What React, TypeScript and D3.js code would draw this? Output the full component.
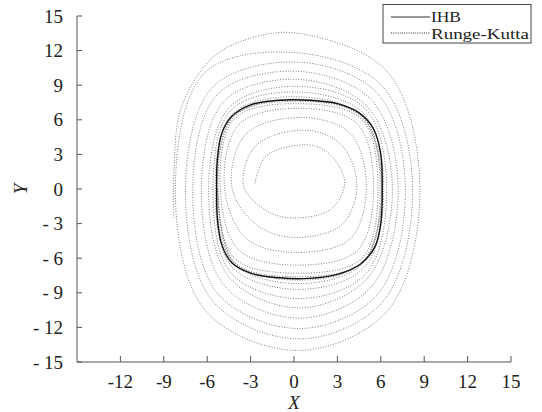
import React from "react";
import * as d3 from "d3";

// axis ticks
const xTicks = [-12, -9, -6, -3, 0, 3, 6, 9, 12, 15];
const yTicks = [15, 12, 9, 6, 3, 0, -3, -6, -9, -12, -15];
const yTickLabels = ["15", "12", "9", "6", "3", "0", "- 3", "- 6", "- 9", "- 12", "- 15"];

// IHB limit cycle (closed)
const ihbX = [6.1, 6.0, 5.5, 4.5, 3, 1, -1, -3, -4.3, -5.0, -5.3, -5.35, -5.3, -5.0, -4.3, -3, -1, 1, 3, 4.6, 5.6, 6.0];
const ihbY = [0, 3, 5.2, 6.6, 7.4, 7.7, 7.7, 7.3, 6.3, 4.8, 2.5, 0, -2.5, -4.8, -6.4, -7.3, -7.7, -7.75, -7.4, -6.5, -5.0, -3];

// Runge-Kutta: trajectory from outside, read loop by loop (L, TL, top, TR, R, BR, B, BL)
const rkOuterX = [
  -8.3, -8.3, -7.8, -5.7, -3.2,
  0.3, 6.5, 8.7, 6.5, 0.3, -6.15, -8.2, -6.15,
  0.3, 6.15, 8.2, 6.15, 0.4, -5.6, -7.5, -5.6,
  0.3, 5.8, 7.7, 5.8, 0.4, -5.25, -7.0, -5.25,
  0.3, 5.4, 7.2, 5.4, 0.4, -4.8, -6.4, -4.8,
  0.3, 5.1, 6.8, 5.1, 0.4, -4.45, -5.9, -4.45,
  0.3, 5.0, 6.4, 5.0, 0.4, -4.35, -5.6, -4.35,
  0.3, 4.85, 6.2, 4.85, 0.4, -4.25, -5.45, -4.25,
  0.3, 4.75, 6.1, 4.75, 0.4, -4.15, -5.35, -4.15,
  0.3, 4.7, 6.05, 4.7, 0.4, -4.15, -5.3,
];
const rkOuterY = [
  -2.5, 1.5, 7.0, 11.3, 13.0,
  13.5, 10.1, 0, -10.5, -14.0, -10.5, 0, 10.1,
  11.8, 8.85, 0, -9.75, -13.0, -9.75, 0, 8.85,
  11.0, 8.25, 0, -9.1, -12.1, -9.1, 0, 8.25,
  10.2, 7.65, 0, -8.4, -11.2, -8.4, 0, 7.65,
  9.5, 7.1, 0, -7.7, -10.3, -7.7, 0, 7.1,
  8.9, 6.85, 0, -7.3, -9.5, -7.3, 0, 6.85,
  8.4, 6.5, 0, -6.8, -8.7, -6.8, 0, 6.5,
  8.0, 6.25, 0, -6.45, -8.2, -6.45, 0, 6.25,
  7.8, 6.15, 0, -6.35, -7.9, -6.3, 0,
];

// Runge-Kutta: trajectory from inside (L, TL, T, TR, R, BR, B, BL)
const rkInnerX = [
  -2.7, -1.9, 1.2, 2.7, 3.5, 2.5, -0.3, -2.0,
  -3.5, -2.6, 0.9, 3.3, 4.35, 3.3, 0, -2.6,
  -4.3, -3.3, 0.6, 3.9, 5.0, 3.9, 0.1, -3.3,
  -4.8, -3.8, 0.4, 4.4, 5.5, 4.4, 0.2, -3.8,
  -5.1, -4.1, 0.3, 4.7, 5.8, 4.7, 0.3, -4.1,
  -5.25, -4.2, 0.3, 4.8, 5.95, 4.8, 0.3, -4.2, -5.3,
];
const rkInnerY = [
  0.5, 2.9, 3.8, 2.7, 0.5, -1.8, -2.5, -1.8,
  0.3, 3.8, 5.1, 3.8, 0.3, -3.1, -4.2, -3.1,
  0.2, 4.8, 6.2, 4.8, 0.2, -4.3, -5.5, -4.3,
  0.1, 5.6, 7.0, 5.6, 0.1, -5.3, -6.6, -5.3,
  0, 6.1, 7.4, 6.0, 0, -6.0, -7.3, -6.0,
  0, 6.3, 7.6, 6.2, 0, -6.3, -7.6, -6.3, 0,
];

const W = 542;
const H = 412;
const serif = "'Liberation Serif', 'DejaVu Serif', serif";

export default function App() {
  const x = d3.scaleLinear().domain([-15, 15]).range([77, 511]);
  const y = d3.scaleLinear().domain([-15, 15]).range([362, 16]);

  const zip = (xs: number[], ys: number[]) => xs.map((v, i) => [v, ys[i]] as [number, number]);

  const openLine = d3
    .line<[number, number]>()
    .x((d) => x(d[0]))
    .y((d) => y(d[1]))
    .curve(d3.curveCatmullRom.alpha(0.5));
  const closedLine = d3
    .line<[number, number]>()
    .x((d) => x(d[0]))
    .y((d) => y(d[1]))
    .curve(d3.curveCatmullRomClosed.alpha(0.5));

  const axisColor = "#555";
  const txt = { fontFamily: serif, fill: "#222" } as React.CSSProperties;

  return (
    <svg width={W} height={H} style={{ position: "absolute", left: 0, top: 0, background: "#fff" }}>
      {/* Runge-Kutta */}
      <path d={openLine(zip(rkOuterX, rkOuterY)) || ""} fill="none" stroke="#707070" strokeWidth={0.9} strokeDasharray="1 1.6" />
      <path d={openLine(zip(rkInnerX, rkInnerY)) || ""} fill="none" stroke="#707070" strokeWidth={0.9} strokeDasharray="1 1.6" />
      {/* IHB */}
      <path d={closedLine(zip(ihbX, ihbY)) || ""} fill="none" stroke="#111" strokeWidth={1.4} />

      {/* y axis */}
      <line x1={77} x2={77} y1={y(15)} y2={y(-15)} stroke={axisColor} strokeWidth={1} />
      {yTicks.map((t, i) => (
        <g key={"y" + t}>
          <line x1={77} x2={82} y1={y(t)} y2={y(t)} stroke={axisColor} strokeWidth={1} />
          <text x={63} y={y(t) + 6.5} textAnchor="end" fontSize={19} style={txt}>
            {yTickLabels[i]}
          </text>
        </g>
      ))}

      {/* x axis */}
      <line x1={x(-15)} x2={x(15)} y1={362} y2={362} stroke={axisColor} strokeWidth={1} />
      {xTicks.map((t) => (
        <g key={"x" + t}>
          <line x1={x(t)} x2={x(t)} y1={362} y2={356} stroke={axisColor} strokeWidth={1} />
          <text x={x(t)} y={388} textAnchor="middle" fontSize={19} style={txt}>
            {String(t)}
          </text>
        </g>
      ))}

      {/* axis titles */}
      <text x={x(0)} y={409} textAnchor="middle" fontStyle="italic" fontSize={19} style={txt}>
        X
      </text>
      <text transform={`translate(27, ${y(0)}) rotate(-90)`} textAnchor="middle" fontStyle="italic" fontSize={19} style={txt}>
        Y
      </text>

      {/* legend */}
      <rect x={383} y={4.5} width={148} height={38.5} fill="#fff" stroke="#444" strokeWidth={1} />
      <line x1={391} x2={430} y1={17} y2={17} stroke="#333" strokeWidth={1} />
      <line x1={391} x2={430} y1={33} y2={33} stroke="#333" strokeWidth={1} strokeDasharray="1 1.2" />
      <text x={431} y={21.5} fontSize={14.5} style={txt} textLength={30} lengthAdjust="spacingAndGlyphs">
        IHB
      </text>
      <text x={431} y={38.5} fontSize={14.5} style={txt} textLength={98} lengthAdjust="spacingAndGlyphs">
        Runge-Kutta
      </text>
    </svg>
  );
}
